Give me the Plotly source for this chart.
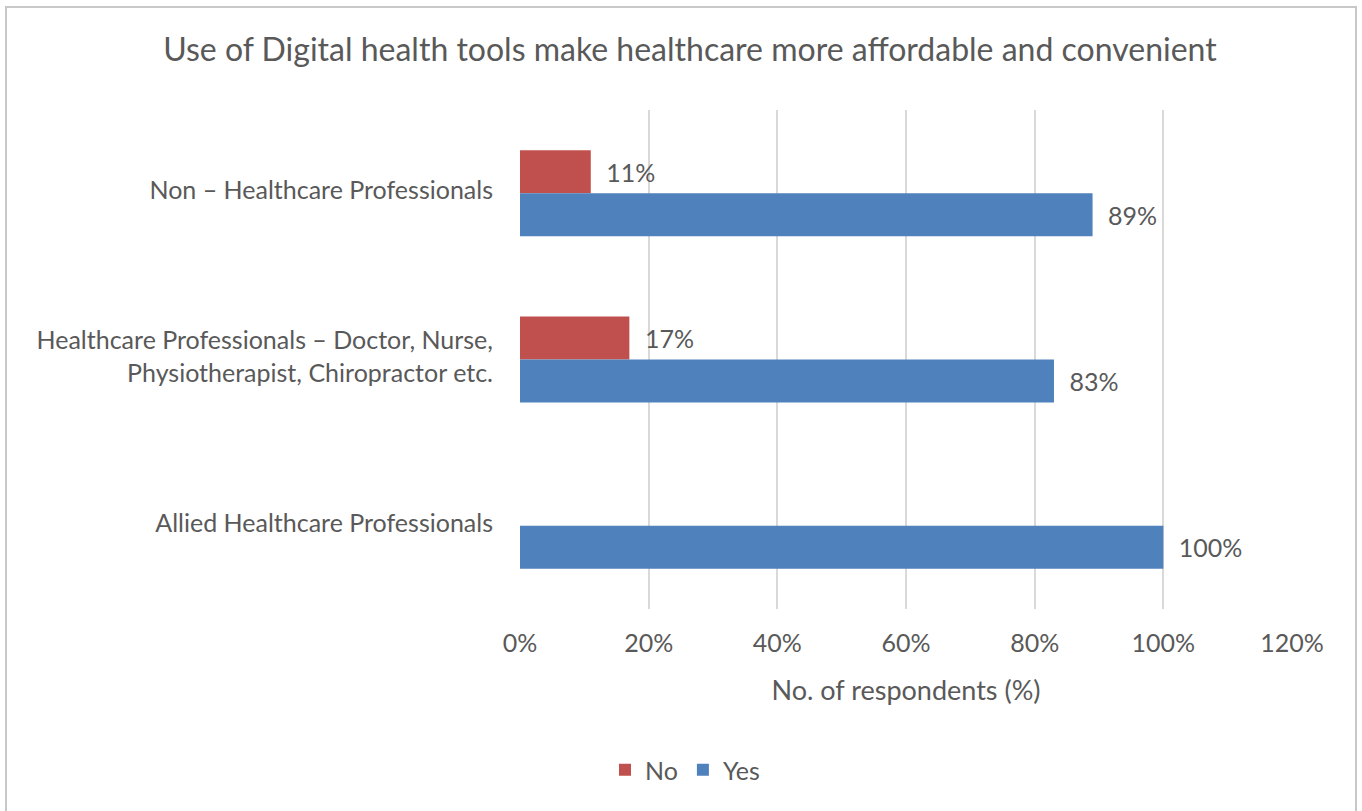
import plotly.graph_objects as go

# Survey responses by respondent group (percent of respondents)
categories = [
    "Non – Healthcare Professionals",
    "Healthcare Professionals – Doctor, Nurse,<br>Physiotherapist, Chiropractor etc.",
    "Allied Healthcare Professionals",
]
no_values = [11, 17, 0]
yes_values = [89, 83, 100]
x_ticks = [0, 20, 40, 60, 80, 100, 120]

TEXT = "#595959"
FONT = "Lato"
W, H = 1362, 811
# plot-area edges in pixels
L, R, T, B = 520, 1292, 110, 609
LABEL_SIZE = 25


def labels(values):
    # en-space keeps the value label clear of the bar end
    return [f"\u2002{v}%" if v else "" for v in values]


fig = go.Figure()
fig.add_trace(go.Bar(
    name="No", y=categories, x=no_values, orientation="h",
    marker=dict(color="#C0504D", line=dict(width=0)),
    text=labels(no_values), textposition="outside", cliponaxis=False,
    textfont=dict(color=TEXT, size=LABEL_SIZE, family=FONT),
))
fig.add_trace(go.Bar(
    name="Yes", y=categories, x=yes_values, orientation="h",
    marker=dict(color="#4F81BD", line=dict(width=0)),
    text=labels(yes_values), textposition="outside", cliponaxis=False,
    textfont=dict(color=TEXT, size=LABEL_SIZE, family=FONT),
))

# outer chart frame
fig.add_shape(
    type="rect", xref="paper", yref="paper",
    x0=(6 - L) / (R - L), x1=(1356 - L) / (R - L),
    y0=(B - 820) / (B - T), y1=(B - 7) / (B - T),
    line=dict(color="#C8C8C8", width=2), layer="below",
)

fig.update_layout(
    width=W, height=H,
    margin=dict(l=L, r=W - R, t=T, b=H - B, autoexpand=False),
    paper_bgcolor="white", plot_bgcolor="white",
    font=dict(family=FONT, color=TEXT, size=LABEL_SIZE),
    barmode="group", bargap=0.483, bargroupgap=0,
    title=dict(
        text="Use of Digital health tools make healthcare more affordable and convenient",
        font=dict(size=32, color=TEXT, family=FONT),
        xref="container", x=690 / W, xanchor="center",
        yref="container", y=1 - 50 / H, yanchor="middle",
    ),
    xaxis=dict(
        range=[0, 120], tickmode="array", tickvals=x_ticks,
        ticktext=[f"{v}%" for v in x_ticks],
        showgrid=True, gridcolor="#D9D9D9", gridwidth=2,
        zeroline=False, showline=False, ticks="",
        ticklabelstandoff=17,
        tickfont=dict(size=LABEL_SIZE, color=TEXT),
        title=dict(text="No. of respondents (%)", font=dict(size=27, color=TEXT), standoff=25),
        fixedrange=True,
    ),
    yaxis=dict(
        autorange="reversed", showgrid=False, zeroline=False,
        showline=False, ticks="", ticklabelstandoff=26, ticklabelshift=3,
        tickfont=dict(size=LABEL_SIZE, color=TEXT),
        fixedrange=True,
    ),
    legend=dict(
        orientation="h", xref="container", x=685 / W, xanchor="center",
        yref="container", y=1 - 770 / H, yanchor="middle",
        font=dict(size=LABEL_SIZE, color=TEXT), itemwidth=30,
    ),
    showlegend=True,
)

fig.write_html("out.html")
